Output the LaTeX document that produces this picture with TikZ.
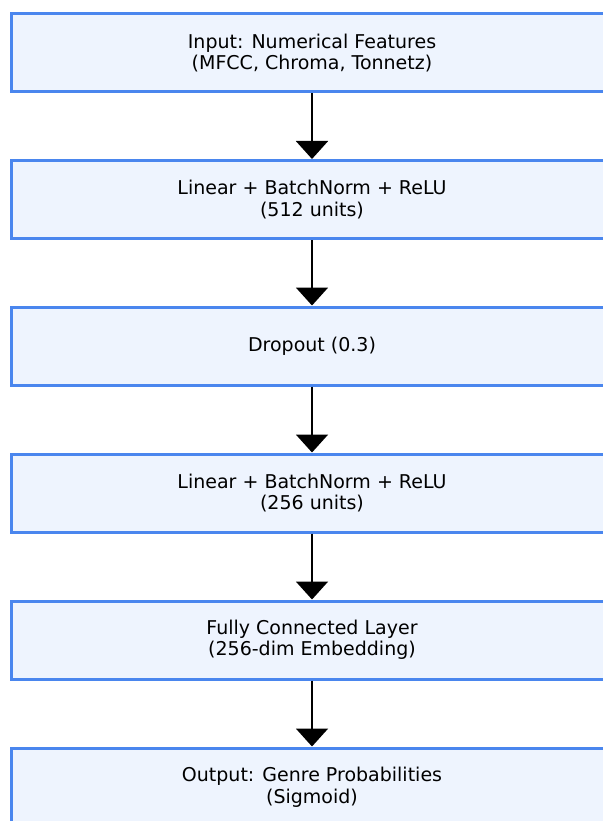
\documentclass[tikz,border=0pt]{standalone}
\usepackage{fontspec}
\setmainfont{DejaVu Sans}
\usetikzlibrary{arrows.meta}
\definecolor{boxblue}{HTML}{4A86EE}
\definecolor{boxfill}{HTML}{EEF4FE}

\begin{document}
\begin{tikzpicture}[x=1pt, y=1pt]
      % Réseau entièrement connecté, couche par couche
      % On définit les styles
      \tikzstyle{layer} = [draw=boxblue, fill=boxfill, line width=3pt, text centered, align=center,
                           minimum width=602pt, minimum height=78pt, inner sep=0pt, font=\fontsize{19}{21.5}\selectfont]
      \tikzstyle{flow} = [-{Triangle[width=32pt, length=18pt]}, line width=2pt, black]

      \useasboundingbox (0, 0) rectangle (602, -821);

      % Boxes
      \node[layer] (inp) at (312, -53) {Input: Numerical Features\\(MFCC, Chroma, Tonnetz)};
      \node[layer] (lin1) at (312, -199.5) {Linear + BatchNorm + ReLU\\(512 units)};
      \node[layer] (drop) at (312, -346) {Dropout (0.3)};
      \node[layer] (lin2) at (312, -493) {Linear + BatchNorm + ReLU\\(256 units)};
      \node[layer] (fc) at (312, -640) {Fully Connected Layer\\(256-dim Embedding)};
      \node[layer] (out) at (312, -787) {Output: Genre Probabilities\\(Sigmoid)};

      % Arrows
      \draw[flow] (inp) -- (lin1);
      \draw[flow] (lin1) -- (drop);
      \draw[flow] (drop) -- (lin2);
      \draw[flow] (lin2) -- (fc);
      \draw[flow] (fc) -- (out);

    \end{tikzpicture}
\end{document}
